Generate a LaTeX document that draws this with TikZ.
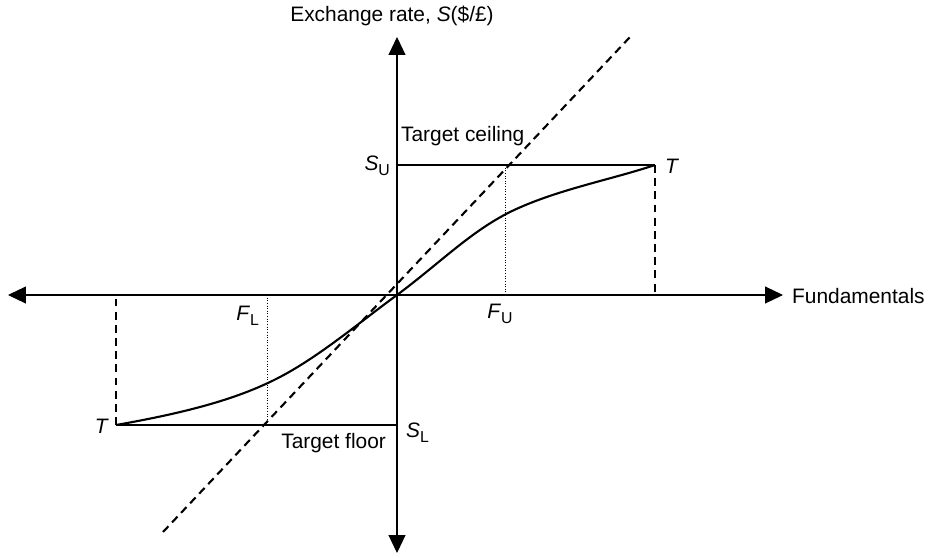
\documentclass[tikz,border=0pt]{standalone}
\usepackage{fontspec}
\setmainfont{Liberation Sans}
\usetikzlibrary{arrows.meta}
\newcommand{\lowsub}[1]{\raisebox{-0.45ex}{\fontsize{9}{10}\selectfont #1}}
\begin{document}
\begin{tikzpicture}[x=0.02cm, y=-0.02cm, font=\fontsize{11.9}{14}\selectfont,
        axis/.style={line width=0.6pt, -{Triangle[length=0.36cm, width=0.34cm]}},
        level/.style={line width=0.6pt},
        guide/.style={line width=1.2pt, dash pattern=on 4.5pt off 3pt},
        fline/.style={line width=0.5pt, densely dotted},
        curve/.style={line width=1.2pt},
        every node/.style={inner sep=1pt}]
        \useasboundingbox (0,0) rectangle (928,557);
        \coordinate (O) at (397,295);
        \coordinate (Top) at (397,37);
        \coordinate (Bot) at (397,553);
        \coordinate (Lft) at (8,295);
        \coordinate (Rgt) at (783,295);
        \coordinate (SU) at (397,165);
        \coordinate (SL) at (397,425);
        \coordinate (TU) at (655,165);
        \coordinate (TL) at (116,425);
        \coordinate (TUx) at (655,295);
        \coordinate (TLx) at (116,295);
        \coordinate (FU) at (505,295);
        \coordinate (FUs) at (505,165);
        \coordinate (FL) at (267,295);
        \coordinate (FLs) at (267,425);
        \coordinate (D1) at (163,532);
        \coordinate (D2) at (630,37);
        \coordinate (C1) at (280,377);
        \coordinate (C2) at (510,212);
        % axes
        \draw[axis] (O) -- (Top);
        \draw[axis] (O) -- (Bot);
        \draw[axis] (O) -- (Lft);
        \draw[axis] (O) -- (Rgt);
        % target band
        \draw[level] (SU) -- (TU);
        \draw[level] (SL) -- (TL);
        \draw[guide] (TU) -- (TUx);
        \draw[guide] (TL) -- (TLx);
        \draw[fline] (FU) -- (FUs);
        \draw[fline] (FL) -- (FLs);
        \draw[guide] (D1) -- (D2);
        \draw[curve] (TL) .. controls (190,412) and (240,398) .. (C1)
            .. controls (320,356) and (360,322) .. (O)
            .. controls (440,263) and (470,232) .. (C2)
            .. controls (555,190) and (610,180) .. (TU);
        % labels
        \node (ylab) at (392,16) {Exchange rate, \textit{S}(\$/£)};
        \node[anchor=west] (xlab) at (790,296) {Fundamentals};
        \node[anchor=base west] (ceil) at (399,142) {Target ceiling};
        \node[anchor=base east] (floor) at (388,448) {Target floor};
        \node[anchor=east] (su) at (392,166) {\textit{S}\lowsub{U}};
        \node[anchor=west] (sl) at (404,433) {\textit{S}\lowsub{L}};
        \node[anchor=west] (tu) at (663,166) {\textit{T}};
        \node[anchor=east] (tl) at (111,426) {\textit{T}};
        \node (fu) at (500,314) {\textit{F}\lowsub{U}};
        \node[anchor=east] (fl) at (261,316) {\textit{F}\lowsub{L}};
\end{tikzpicture}
\end{document}
